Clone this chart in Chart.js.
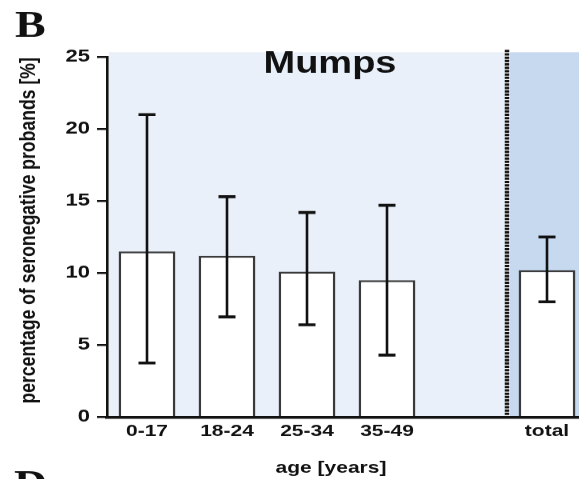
<!DOCTYPE html>
<html>
<head>
<meta charset="utf-8">
<script src="https://cdn.jsdelivr.net/npm/chart.js@4/dist/chart.umd.min.js"></script>
<style>
  html, body { margin: 0; padding: 0; background: #fff; overflow: hidden; }
  /* figure was typeset taller and printed vertically compressed */
  #wrap { width: 600px; height: 599px; transform: scaleY(0.8); transform-origin: 0 0; }
</style>
</head>
<body>
<div id="wrap"><canvas id="c" width="600" height="599"></canvas></div>
<script>
// Seronegative proportion by age group, with 95% confidence intervals
const ageGroups = ['0-17', '18-24', '25-34', '35-49', '', 'total'];
const seronegativePct = [11.5, 11.2, 10.1, 9.5, null, 10.2];
const ciLower = [3.75, 6.95, 6.4, 4.3, null, 8.0];
const ciUpper = [21.0, 15.3, 14.2, 14.7, null, 12.5];

const panelLabel = 'B';
const nextPanelLabel = 'D';
const chartTitle = 'Mumps';
const xTitle = 'age [years]';
const yTitle = 'percentage of seronegative probands [%]';

const INK = '#111';
const SANS = '"Liberation Sans", Arial, sans-serif';
const SERIF = '"Liberation Serif", "Times New Roman", serif';

// shaded panels behind the bars, split by a dotted divider before "total"
const panels = {
  id: 'panels',
  beforeDraw(chart) {
    const { ctx, chartArea: a, scales: { x } } = chart;
    const div = x.getPixelForValue(4.5);
    const top = a.top - 6;
    ctx.save();
    ctx.fillStyle = '#e9f0f9';
    ctx.fillRect(a.left + 2, top, div - 2 - (a.left + 2), a.bottom - top);
    ctx.fillStyle = '#c6d9ef';
    ctx.fillRect(div + 3, top, chart.width - div - 3, a.bottom - top);
    ctx.restore();
  },
  afterDatasetsDraw(chart) {
    const { ctx, chartArea: a, scales: { x } } = chart;
    const div = x.getPixelForValue(4.5);
    ctx.save();
    ctx.strokeStyle = INK;
    ctx.lineWidth = 4.5;
    ctx.setLineDash([3, 1.2]);
    ctx.beginPath();
    ctx.moveTo(div, a.top - 9);
    ctx.lineTo(div, a.bottom);
    ctx.stroke();
    ctx.restore();
  }
};

// confidence-interval whiskers drawn over the bars
const whiskers = {
  id: 'whiskers',
  afterDatasetsDraw(chart) {
    const { ctx, scales: { y } } = chart;
    const meta = chart.getDatasetMeta(0);
    ctx.save();
    ctx.strokeStyle = INK;
    meta.data.forEach((bar, i) => {
      if (seronegativePct[i] == null) return;
      const lo = y.getPixelForValue(ciLower[i]);
      const hi = y.getPixelForValue(ciUpper[i]);
      const cx = bar.x, half = 8.5;
      ctx.lineWidth = 2.6;
      ctx.beginPath();
      ctx.moveTo(cx, lo); ctx.lineTo(cx, hi);
      ctx.stroke();
      ctx.lineWidth = 3.6;
      ctx.beginPath();
      ctx.moveTo(cx - half, hi); ctx.lineTo(cx + half, hi);
      ctx.moveTo(cx - half, lo); ctx.lineTo(cx + half, lo);
      ctx.stroke();
    });
    ctx.restore();
  }
};

// panel letters, title and axis titles
const labels = {
  id: 'labels',
  afterDraw(chart) {
    const { ctx, chartArea: a } = chart;
    ctx.save();
    ctx.fillStyle = INK;
    ctx.textBaseline = 'alphabetic';
    ctx.textAlign = 'left';
    ctx.font = 'bold 46px ' + SERIF;
    ctx.fillText(panelLabel, 15, 46);
    ctx.fillText(nextPanelLabel, 14, 620);

    ctx.textAlign = 'center';
    ctx.font = 'bold 38px ' + SANS;
    ctx.fillText(chartTitle, 330, 91);

    ctx.textBaseline = 'middle';
    ctx.font = 'bold 21px ' + SANS;
    ctx.fillText(xTitle, 331, 585);

    ctx.translate(29, 288);
    ctx.rotate(-Math.PI / 2);
    ctx.font = 'bold 22px ' + SANS;
    ctx.fillText(yTitle, 0, 0);
    ctx.restore();
  }
};

new Chart(document.getElementById('c'), {
  type: 'bar',
  data: {
    labels: ageGroups,
    datasets: [{
      data: seronegativePct,
      backgroundColor: '#ffffff',
      borderColor: '#3a3a3a',
      borderWidth: 2.6,
      categoryPercentage: 1,
      barPercentage: 0.71
    }]
  },
  options: {
    responsive: false,
    devicePixelRatio: 1,
    animation: false,
    layout: { padding: { left: 0, right: 13, top: 71.25, bottom: 0 } },
    plugins: { legend: { display: false }, tooltip: { enabled: false }, title: { display: false } },
    scales: {
      x: {
        type: 'category',
        offset: true,
        grid: { display: false, drawTicks: false },
        border: { display: true, color: INK, width: 3.5 },
        ticks: { color: INK, font: { family: SANS, size: 21, weight: 'bold' }, padding: 5, maxRotation: 0, autoSkip: false },
        afterFit(s) { s.height = 77.75; }
      },
      y: {
        min: 0, max: 25,
        grid: { display: true, drawOnChartArea: false, drawTicks: true, tickLength: 10, color: INK, lineWidth: 2.5 },
        border: { display: true, color: INK, width: 2.6 },
        ticks: { stepSize: 5, color: INK, font: { family: SANS, size: 22, weight: 'bold' }, padding: 7 },
        afterFit(s) { s.width = 107; }
      }
    }
  },
  plugins: [panels, whiskers, labels]
});
</script>
</body>
</html>
